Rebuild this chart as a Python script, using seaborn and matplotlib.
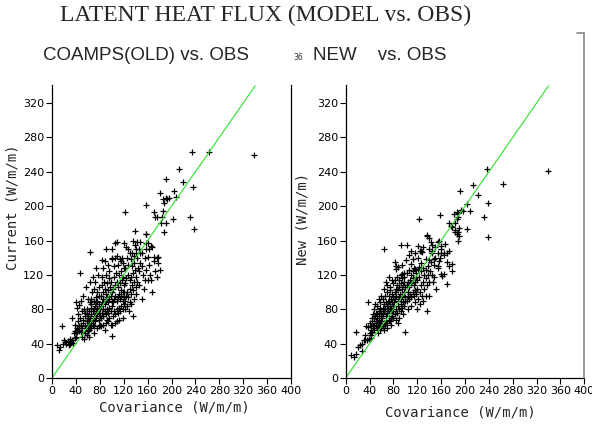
import matplotlib
matplotlib.use("Agg")
import matplotlib.pyplot as plt
import seaborn as sns
import pandas as pd
from matplotlib import font_manager
from matplotlib.lines import Line2D

# observed (covariance) vs. old model (COAMPS) latent heat flux, W/m/m
old_obs = [
    8, 12, 14, 16, 18, 20, 22, 24, 26, 28,
    30, 30, 32, 34, 35, 36, 38, 40, 38, 33,
    40, 42, 44, 46, 48, 50, 42, 45, 48, 50,
    44, 47, 52, 55, 57, 52, 55, 58, 44, 42,
    40, 46, 50, 53, 56, 58, 48, 57, 47, 60,
    54, 58, 60, 60, 59, 52, 60, 38, 50, 56,
    62, 64, 66, 68, 70, 62, 64, 66, 68, 70,
    72, 74, 76, 78, 62, 65, 68, 70, 72, 74,
    76, 78, 80, 63, 66, 70, 73, 76, 79, 67,
    71, 75, 78, 72, 69, 77, 74, 64, 80, 80,
    62, 70, 75, 79, 65, 73, 78, 61, 66, 74,
    82, 84, 86, 88, 90, 92, 94, 96, 98, 100,
    82, 84, 86, 88, 90, 92, 94, 96, 98, 100,
    82, 85, 88, 91, 94, 97, 100, 83, 87, 92,
    95, 99, 84, 90, 96, 86, 93, 89, 83, 100,
    82, 86, 90, 94, 98, 100, 88, 96, 92, 85,
    102, 104, 106, 108, 110, 112, 114, 116, 118, 120,
    102, 104, 106, 108, 110, 112, 114, 116, 118, 120,
    102, 105, 108, 111, 114, 117, 120, 103, 107, 112,
    116, 119, 104, 110, 115, 106, 100, 105, 112, 118,
    109, 118, 120, 101, 106, 109, 113, 108, 115, 119,
    122, 124, 126, 128, 130, 132, 134, 136, 138, 140,
    122, 124, 127, 130, 133, 136, 139, 123, 128, 134,
    121, 124, 127, 131, 135, 139, 126, 132, 137, 122,
    125, 130, 135, 138, 140, 129, 133, 140, 121, 137,
    141, 143, 145, 147, 150, 155, 157, 160, 157, 163,
    161, 166, 168, 170, 178, 157, 144, 148, 152, 156,
    160, 165, 168, 151, 172, 178, 180, 175, 146, 150,
    142, 145, 162, 158, 170, 154, 148, 164, 176, 143,
    139, 157, 170, 172, 175, 184, 185, 183, 191, 188,
    122, 157, 181, 186, 187, 190, 193, 196, 204, 207,
    190, 212, 220, 236, 203, 231, 238, 235, 263, 338,
    64, 90, 134, 117, 100, 140,
]
old_cur = [
    38, 33, 36, 60, 40, 44, 42, 40, 43, 38,
    40, 45, 42, 44, 41, 52, 55, 48, 62, 70,
    55, 54, 56, 55, 53, 54, 58, 60, 62, 58,
    66, 70, 64, 60, 58, 68, 72, 66, 75, 82,
    88, 85, 78, 80, 76, 74, 90, 106, 122, 55,
    45, 50, 62, 70, 80, 95, 92, 46, 48, 52,
    56, 60, 58, 62, 60, 66, 70, 74, 68, 72,
    66, 70, 74, 68, 78, 82, 78, 80, 84, 78,
    82, 86, 80, 88, 92, 90, 94, 90, 96, 100,
    104, 100, 106, 112, 118, 120, 128, 112, 62, 72,
    48, 52, 58, 60, 64, 76, 76, 72, 86, 88,
    70, 76, 72, 78, 74, 80, 76, 82, 78, 84,
    84, 88, 92, 86, 90, 94, 88, 92, 96, 90,
    96, 100, 104, 98, 102, 106, 100, 108, 112, 110,
    116, 112, 118, 120, 124, 128, 132, 136, 137, 138,
    60, 62, 64, 66, 62, 49, 56, 70, 68, 80,
    72, 78, 74, 80, 76, 82, 78, 84, 80, 86,
    88, 92, 96, 90, 94, 98, 92, 96, 100, 94,
    104, 108, 112, 106, 110, 114, 108, 118, 122, 120,
    124, 118, 130, 132, 136, 140, 62, 64, 68, 70,
    142, 134, 128, 150, 157, 158, 138, 66, 102, 90,
    90, 96, 100, 94, 104, 98, 108, 102, 112, 106,
    110, 116, 120, 114, 118, 122, 126, 128, 132, 130,
    157, 153, 150, 146, 160, 155, 140, 138, 142, 80,
    84, 88, 72, 92, 118, 78, 86, 98, 100, 134,
    150, 158, 150, 158, 145, 140, 157, 157, 150, 150,
    141, 154, 153, 141, 141, 168, 128, 134, 120, 114,
    114, 114, 100, 92, 124, 134, 126, 118, 108, 130,
    112, 124, 132, 126, 136, 104, 146, 120, 140, 140,
    171, 168, 193, 187, 187, 187, 194, 180, 180, 170,
    193, 201, 215, 208, 204, 210, 208, 209, 218, 211,
    232, 243, 228, 222, 185, 187, 173, 263, 263, 260,
    147, 150, 145, 140, 140, 145,
]

# observed vs. new model
new_obs = [
    9, 14, 17, 17, 21, 24, 27, 30, 33, 36,
    39, 42, 34, 38, 42, 46, 37, 49, 28, 32,
    40, 42, 44, 46, 48, 50, 52, 54, 56, 58,
    41, 44, 47, 50, 53, 56, 59, 45, 50, 55,
    58, 52, 57, 48, 60, 54, 58, 43, 51, 56,
    60, 55, 59, 47, 53, 44, 49, 52, 57, 60,
    62, 64, 66, 68, 70, 72, 74, 76, 78, 80,
    61, 63, 65, 67, 69, 71, 73, 75, 77, 79,
    62, 64, 66, 68, 70, 72, 74, 76, 78, 80,
    63, 66, 69, 72, 75, 78, 65, 70, 74, 79,
    67, 73, 77, 64, 70, 76, 80, 62, 71, 76,
    82, 84, 86, 88, 90, 92, 94, 96, 98, 100,
    81, 83, 85, 87, 89, 91, 93, 95, 97, 99,
    82, 84, 86, 88, 90, 92, 94, 96, 98, 100,
    83, 86, 89, 92, 95, 98, 84, 82, 85, 94,
    97, 87, 101, 95, 84, 90, 96, 99, 88, 93,
    102, 104, 106, 108, 110, 112, 114, 116, 118, 120,
    102, 104, 106, 108, 110, 112, 114, 116, 118, 120,
    103, 106, 109, 112, 115, 118, 121, 105, 110, 116,
    122, 124, 126, 128, 130, 132, 134, 136, 138, 140,
    123, 126, 129, 132, 135, 138, 124, 130, 137, 140,
    117, 123, 109, 134, 140, 120, 127, 113, 105, 135,
    142, 145, 148, 151, 154, 157, 160, 162, 165, 169,
    173, 179, 179, 146, 150, 155, 148, 143, 158, 170,
    64, 92, 103, 109, 106, 117, 124, 128, 140, 145,
    154, 148, 122, 130, 127, 143, 145, 155, 160, 150,
    165, 170, 173, 167, 159, 156, 140, 137, 137, 165,
    183, 187, 190, 184, 189, 187, 173, 176, 179, 183,
    189, 190, 189, 123, 158, 182, 186, 188, 193, 196,
    208, 204, 204, 232, 238, 238, 221, 191, 213, 237,
    264, 339, 122, 144, 160,
]
new_new = [
    27, 25, 28, 54, 36, 38, 32, 44, 44, 44,
    45, 47, 60, 59, 61, 60, 88, 86, 40, 50,
    52, 56, 54, 58, 56, 60, 58, 62, 60, 64,
    64, 66, 70, 66, 70, 68, 72, 74, 76, 78,
    80, 84, 88, 80, 58, 52, 56, 50, 64, 74,
    66, 92, 96, 62, 74, 70, 72, 66, 82, 76,
    60, 64, 62, 66, 64, 68, 66, 70, 72, 70,
    70, 74, 78, 72, 76, 80, 76, 82, 78, 84,
    82, 86, 80, 88, 84, 90, 86, 92, 88, 94,
    92, 96, 100, 96, 102, 98, 104, 108, 106, 110,
    112, 118, 114, 56, 58, 62, 78, 76, 88, 80,
    74, 80, 76, 84, 80, 86, 82, 88, 84, 90,
    88, 92, 96, 90, 94, 98, 92, 96, 100, 94,
    100, 104, 108, 102, 106, 110, 104, 108, 112, 106,
    114, 118, 114, 120, 116, 122, 127, 135, 130, 121,
    117, 129, 137, 131, 68, 70, 74, 53, 64, 78,
    90, 96, 92, 98, 94, 100, 96, 102, 98, 104,
    108, 112, 106, 114, 110, 116, 108, 112, 118, 114,
    122, 126, 120, 124, 128, 122, 126, 80, 84, 88,
    92, 100, 108, 96, 112, 104, 116, 108, 120, 112,
    118, 124, 128, 120, 126, 130, 86, 90, 78, 96,
    127, 129, 133, 139, 137, 80, 134, 138, 100, 95,
    124, 120, 132, 103, 128, 136, 121, 119, 121, 109,
    130, 125, 133, 112, 140, 130, 118, 135, 140, 135,
    150, 155, 155, 148, 143, 145, 148, 147, 150, 148,
    145, 139, 154, 152, 148, 158, 155, 158, 150, 152,
    145, 145, 148, 156, 154, 160, 163, 166, 165, 143,
    172, 168, 174, 180, 187, 193, 180, 177, 176, 170,
    170, 165, 159, 185, 190, 191, 185, 192, 196, 194,
    194, 203, 173, 187, 164, 204, 213, 218, 225, 243,
    226, 241, 140, 145, 145,
]

one_to_one = [0, 340]
x_ticks = [0, 40, 80, 120, 160, 200, 240, 280, 320, 360, 400]
y_ticks = [0, 40, 80, 120, 160, 200, 240, 280, 320]

sns.set_style("white")
names = {f.name for f in font_manager.fontManager.ttflist}
tick_font = "Liberation Sans Narrow" if "Liberation Sans Narrow" in names else "DejaVu Sans"
plt.rcParams["font.family"] = ["DejaVu Sans"]

fig = plt.figure(figsize=(5.92, 4.25), dpi=100)
W, H = 592, 425


def make_axes(left_px, right_px):
    return fig.add_axes([left_px / W, (H - 378) / H, (right_px - left_px) / W, (378 - 85) / H])


def draw_panel(ax, obs, model, ylabel, ylabel_pos, xlabel_pos, right_spine):
    df = pd.DataFrame({"obs": obs, "model": model})
    sns.lineplot(x=one_to_one, y=one_to_one, ax=ax, color="#2ee02e", linewidth=0.8)
    sns.scatterplot(data=df, x="obs", y="model", ax=ax, marker="+", color="black",
                    s=14, linewidth=0.9)
    ax.set_xlim(0, 400)
    ax.set_ylim(0, 341)
    ax.set_xticks(x_ticks)
    ax.set_yticks(y_ticks)
    ax.tick_params(direction="out", length=4, width=0.8, pad=1.5, colors="black",
                   labelsize=8, left=True, bottom=True)
    for lab in ax.get_xticklabels() + ax.get_yticklabels():
        lab.set_fontfamily(tick_font)
    for side in ["left", "bottom"]:
        ax.spines[side].set_color("black")
        ax.spines[side].set_linewidth(0.9)
    ax.spines["top"].set_visible(False)
    ax.spines["right"].set_visible(right_spine)
    ax.spines["right"].set_color("black")
    ax.spines["right"].set_linewidth(0.9)
    ax.set_xlabel("Covariance (W/m/m)", family="DejaVu Sans Mono", fontsize=10)
    ax.set_ylabel(ylabel, family="DejaVu Sans Mono", fontsize=10)
    ax.xaxis.set_label_coords(*xlabel_pos)
    ax.yaxis.set_label_coords(*ylabel_pos)
    ax.xaxis.label.set_va("center")
    ax.yaxis.label.set_va("center")


ax1 = make_axes(52, 291)
draw_panel(ax1, old_obs, old_cur, "Current (W/m/m)", (-0.165, 0.584), (0.513, -0.102), True)
ax2 = make_axes(345.7, 584.3)
draw_panel(ax2, new_obs, new_new, "New (W/m/m)", (-0.179, 0.543), (0.48, -0.118), False)

# grey frame edge left over from the neighbouring panel
fig.add_artist(Line2D([584 / W, 584 / W], [1 - 33 / H, 1 - 378 / H], color="#888888", linewidth=1.2))
fig.add_artist(Line2D([577 / W, 584 / W], [1 - 33 / H, 1 - 33 / H], color="#888888", linewidth=1.2))

fig.text(266 / W, 1 - 15 / H, "LATENT HEAT FLUX (MODEL vs. OBS)", family="Liberation Serif",
         fontsize=17, ha="center", va="center")
fig.text(146 / W, 1 - 56 / H, "COAMPS(OLD) vs. OBS", family="Liberation Sans",
         fontsize=13.5, ha="center", va="center")
fig.text(380 / W, 1 - 56 / H, "NEW    vs. OBS", family="Liberation Sans",
         fontsize=13.5, ha="center", va="center")
fig.text(293 / W, 1 - 58 / H, "36", fontsize=5.5, ha="left", va="center", color="#333333")

fig.savefig("out.png", dpi=100)
